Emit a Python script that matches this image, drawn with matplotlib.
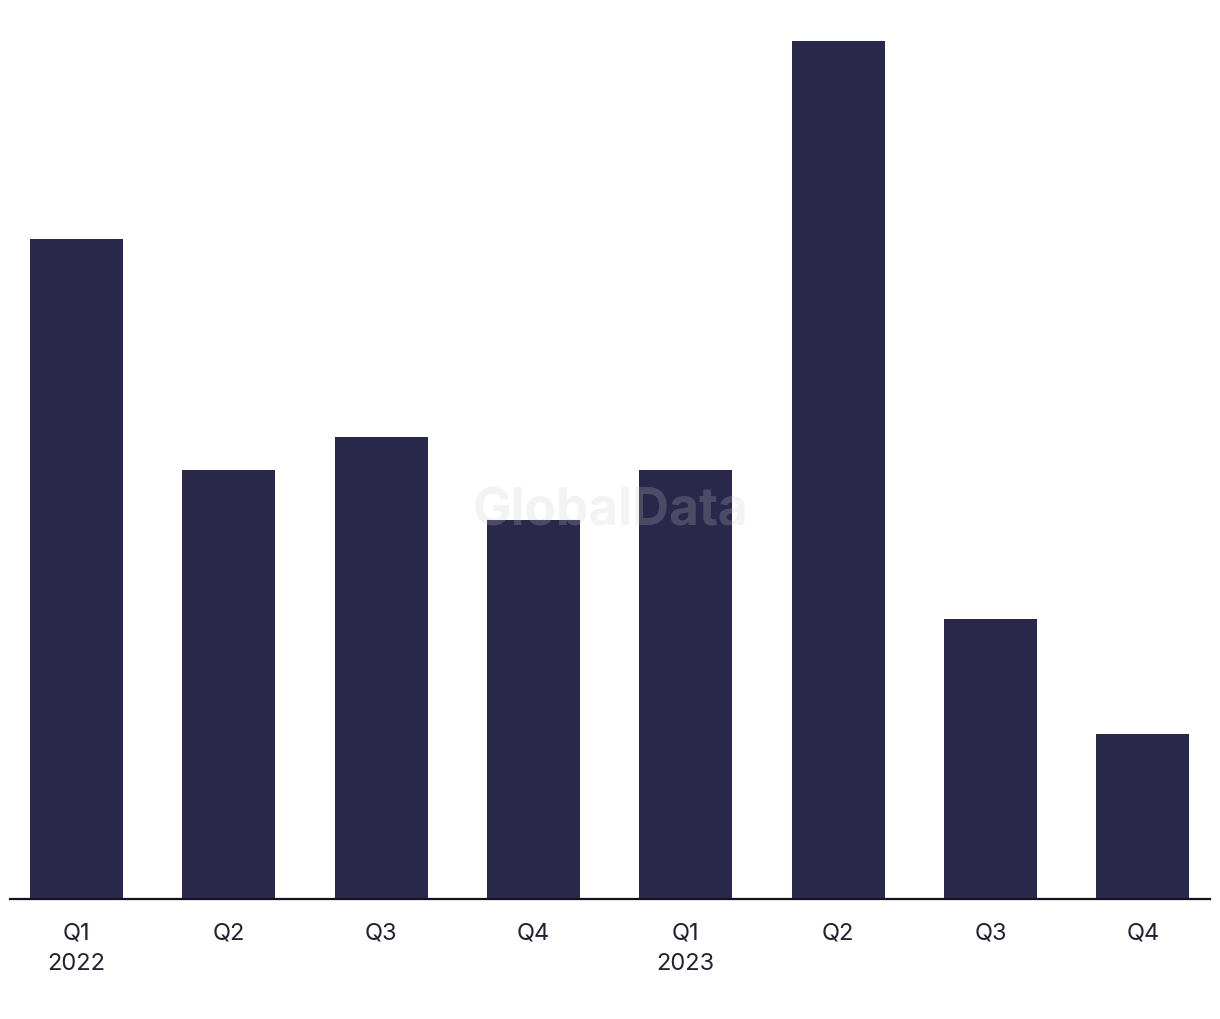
import matplotlib
matplotlib.use('Agg')
import matplotlib.pyplot as plt
import numpy as np

# ── 데이터 ─────────────────────────────────────────
quarters = ['Q1', 'Q2', 'Q3', 'Q4', 'Q1', 'Q2', 'Q3', 'Q4']
years    = ['2022', '', '', '', '2023', '', '', '']
values   = [40, 26, 28, 23, 26, 52, 17, 10]

BAR_COLOR  = '#29284a'
TEXT_COLOR = '#222233'

plt.rcParams['font.family'] = ['Inter', 'DejaVu Sans']

fig = plt.figure(figsize=(12.2, 10.2), dpi=100)
ax = fig.add_axes([10 / 1220, 1 - 900 / 1020, 1200 / 1220, 890 / 1020])

x = np.arange(len(values))
ax.bar(x, values, width=0.61, color=BAR_COLOR, zorder=2)

ax.set_xlim(-0.435, len(values) - 1 + 0.44)
ax.set_ylim(0, 52 * 890 / 858)

labels = [f'{q}\n{y}' if y else q for q, y in zip(quarters, years)]
ax.set_xticks(x)
ax.set_xticklabels(labels, fontsize=17, color=TEXT_COLOR, va='top', linespacing=1.5)
ax.tick_params(axis='x', length=0, pad=16)
ax.set_yticks([])

for s in ['top', 'right', 'left']:
    ax.spines[s].set_visible(False)
ax.spines['bottom'].set_color('#111122')
ax.spines['bottom'].set_linewidth(1.6)

# 워터마크
fig.text(610 / 1220, 1 - 512 / 1020, 'GlobalData', ha='center', va='center',
         fontsize=37, fontweight='bold', color='#cccccc', alpha=0.22, zorder=5)

fig.savefig('out.png', dpi=100, facecolor='white')
